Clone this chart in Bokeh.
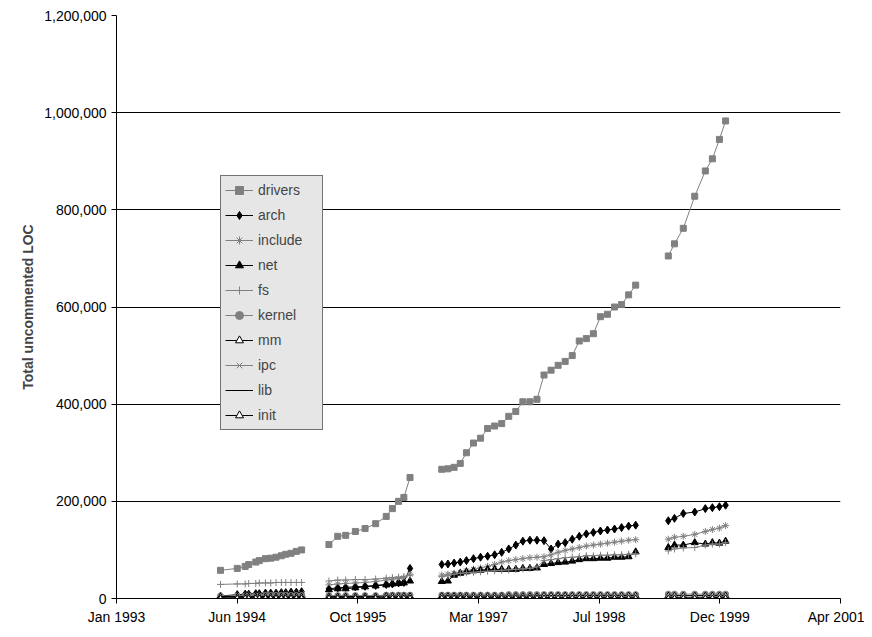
from bokeh.plotting import figure
from bokeh.models import FixedTicker, NumeralTickFormatter, Legend
from bokeh.embed import file_html
from bokeh.resources import INLINE

# release dates (decimal years), four release groups
g1 = [1994.18, 1994.37, 1994.46, 1994.50, 1994.58, 1994.62, 1994.69, 1994.75, 1994.81, 1994.87, 1994.92, 1994.98, 1995.04, 1995.10]
g2 = [1995.41, 1995.51, 1995.60, 1995.71, 1995.82, 1995.94, 1996.06, 1996.13, 1996.20, 1996.26, 1996.33]
g3 = [1996.69, 1996.76, 1996.83, 1996.90, 1996.97, 1997.05, 1997.13, 1997.21, 1997.29, 1997.37, 1997.45, 1997.53, 1997.61, 1997.69, 1997.77,
      1997.85, 1997.93, 1998.01, 1998.09, 1998.17, 1998.25, 1998.33, 1998.41, 1998.49, 1998.57, 1998.65, 1998.73, 1998.81, 1998.89]
g4 = [1999.26, 1999.33, 1999.43, 1999.56, 1999.68, 1999.76, 1999.84, 1999.91]
groups = [g1, g2, g3, g4]

# values in thousands of LOC, per group
drivers = [[58, 62, 66, 70, 75, 78, 82, 83, 85, 88, 91, 93, 97, 100],
           [111, 128, 130, 138, 144, 154, 169, 185, 200, 208, 249],
           [266, 267, 270, 278, 300, 320, 330, 350, 355, 360, 375, 385, 405, 405, 410, 460, 470, 480, 488, 500, 530, 535, 545, 580, 585, 600, 605, 625, 645],
           [705, 730, 762, 828, 880, 905, 945, 983]]
arch = [[5, 8, 9, 9, 10, 10, 11, 11, 11, 12, 12, 13, 13, 14],
        [20, 22, 23, 24, 25, 27, 29, 30, 32, 33, 62],
        [70, 71, 73, 75, 78, 82, 85, 87, 90, 95, 102, 110, 118, 120, 120, 119, 102, 112, 115, 122, 128, 133, 136, 139, 141, 143, 146, 149, 151],
        [160, 165, 175, 178, 185, 187, 189, 192]]
include = [[3, 6, 6, 7, 7, 7, 8, 8, 8, 9, 9, 9, 10, 10],
           [28, 30, 31, 32, 33, 35, 38, 40, 41, 43, 50],
           [48, 50, 52, 54, 57, 60, 63, 66, 70, 75, 78, 80, 82, 84, 85, 86, 90, 95, 99, 102, 105, 108, 110, 112, 114, 116, 118, 120, 121],
           [122, 126, 128, 132, 138, 142, 145, 150]]
net = [[2, 5, 5, 5, 6, 6, 6, 7, 7, 7, 7, 8, 8, 8],
       [18, 20, 20, 22, 24, 26, 28, 30, 31, 32, 36],
       [35, 36, 48, 52, 55, 57, 58, 60, 60, 60, 60, 60, 62, 62, 63, 70, 72, 74, 75, 77, 80, 82, 82, 83, 83, 85, 85, 86, 96],
       [105, 110, 110, 115, 112, 115, 114, 118]]
fs = [[29, 30, 30, 31, 31, 32, 32, 32, 33, 33, 33, 33, 33, 33],
      [36, 38, 38, 39, 39, 40, 42, 43, 44, 45, 48],
      [45, 47, 50, 52, 53, 54, 55, 56, 57, 58, 59, 60, 61, 62, 65, 78, 80, 82, 84, 85, 86, 88, 88, 89, 89, 90, 90, 91, 92],
      [98, 102, 104, 105, 110, 112, 112, 115]]
kernel = [[5, 5, 5, 5, 5, 5, 6, 6, 6, 6, 6, 6, 6, 6],
          [6, 6, 6, 6, 6, 6, 7, 7, 7, 7, 7],
          [7, 7, 7, 7, 7, 7, 7, 7, 7, 7, 8, 8, 8, 8, 8, 8, 8, 8, 8, 8, 8, 8, 8, 8, 8, 8, 8, 8, 8],
          [9, 9, 9, 9, 9, 9, 9, 9]]
mm = [[4, 4, 4, 4, 4, 4, 4, 4, 4, 4, 4, 4, 4, 4],
      [4, 4, 4, 4, 4, 4, 5, 5, 5, 5, 5],
      [5, 5, 5, 5, 5, 5, 5, 5, 5, 5, 5, 5, 5, 5, 5, 6, 6, 6, 6, 6, 6, 6, 6, 6, 6, 6, 6, 6, 6],
      [6, 6, 6, 6, 6, 6, 6, 6]]
ipc = [[2, 2, 2, 2, 2, 2, 2, 2, 2, 2, 2, 2, 2, 2],
       [2, 2, 2, 2, 2, 2, 2, 2, 2, 2, 2],
       [2, 2, 2, 2, 2, 2, 2, 2, 2, 2, 2, 2, 2, 2, 2, 3, 3, 3, 3, 3, 3, 3, 3, 3, 3, 3, 3, 3, 3],
       [3, 3, 3, 3, 3, 3, 3, 3]]
lib = [[1, 1, 1, 1, 1, 1, 1, 1, 1, 1, 1, 1, 1, 1],
       [1, 1, 1, 1, 1, 1, 1, 1, 1, 1, 1],
       [1, 1, 1, 1, 1, 1, 1, 1, 1, 1, 1, 1, 1, 1, 1, 1, 1, 1, 1, 1, 1, 1, 1, 1, 1, 1, 1, 1, 1],
       [1, 1, 1, 1, 1, 1, 1, 1]]
init = [[0.5] * 14, [0.5] * 11, [0.5] * 29, [0.5] * 8]

tick_labels = ["Jan 1993", "Jun 1994", "Oct 1995", "Mar 1997", "Jul 1998", "Dec 1999", "Apr 2001"]

series = [
    ("drivers", drivers, "square", "#808080", "#808080", "#808080", 6),
    ("arch", arch, "diamond", "black", "black", "black", 8),
    ("include", include, "asterisk", "#808080", "#808080", "#808080", 7),
    ("net", net, "triangle", "black", "black", "black", 7),
    ("fs", fs, "cross", "#808080", "#808080", "#808080", 7),
    ("kernel", kernel, "circle", "#808080", "#808080", "#808080", 6),
    ("mm", mm, "triangle", "black", "white", "black", 6),
    ("ipc", ipc, "x", "#808080", "#808080", "#808080", 6),
    ("lib", lib, "dash", "black", "black", "black", 8),
    ("init", init, "triangle", "black", "white", "black", 6),
]

FONT = "Liberation Sans"
start = 1993.0
end = 1993.0 + 3000 / 365.25

p = figure(width=864, height=628, output_backend="svg", toolbar_location=None,
           x_range=(start, end), y_range=(0, 1200000),
           min_border_left=116, min_border_right=24, min_border_top=15, min_border_bottom=30)
p.outline_line_color = None
p.xgrid.visible = False
p.ygrid.grid_line_color = "black"
p.ygrid.grid_line_width = 1

ticks = [start + k * 500 / 365.25 for k in range(7)]
p.xaxis.ticker = FixedTicker(ticks=ticks)
p.xaxis.major_label_overrides = {t: lab for t, lab in zip(ticks, tick_labels)}
p.yaxis.ticker = FixedTicker(ticks=[0, 200000, 400000, 600000, 800000, 1000000, 1200000])
p.yaxis.formatter = NumeralTickFormatter(format="0,0")
for ax in (p.xaxis, p.yaxis):
    ax.axis_line_color = "black"
    ax.major_tick_line_color = "black"
    ax.major_tick_out = 5
    ax.major_tick_in = 0
    ax.minor_tick_line_color = None
    ax.major_label_text_font = FONT
    ax.major_label_text_font_size = "10.5pt"
    ax.major_label_text_color = "black"
p.yaxis.axis_label = "Total uncommented LOC"
p.yaxis.axis_label_text_font = FONT
p.yaxis.axis_label_text_font_style = "bold"
p.yaxis.axis_label_text_font_size = "10.5pt"

items = []
for name, data, marker, lc, fc, mc, size in series:
    rends = []
    for xs, ys in zip(groups, data):
        yv = [v * 1000 for v in ys]
        l = p.line(xs, yv, line_color=lc, line_width=1)
        s = p.scatter(xs, yv, marker=marker, size=size, fill_color=fc, line_color=mc)
        rends += [l, s]
    items.append((name, rends[:2]))

legend = Legend(items=items, location=(104, 168))
legend.background_fill_color = "#e6e6e6"
legend.background_fill_alpha = 1
legend.border_line_color = "black"
legend.label_text_font = FONT
legend.label_text_font_size = "10.5pt"
legend.label_height = 20
legend.glyph_height = 20
legend.spacing = 5
legend.padding = 4
legend.margin = 0
legend.glyph_width = 28
legend.label_width = 60
p.add_layout(legend)

open("out.html", "w").write(file_html(p, INLINE))
